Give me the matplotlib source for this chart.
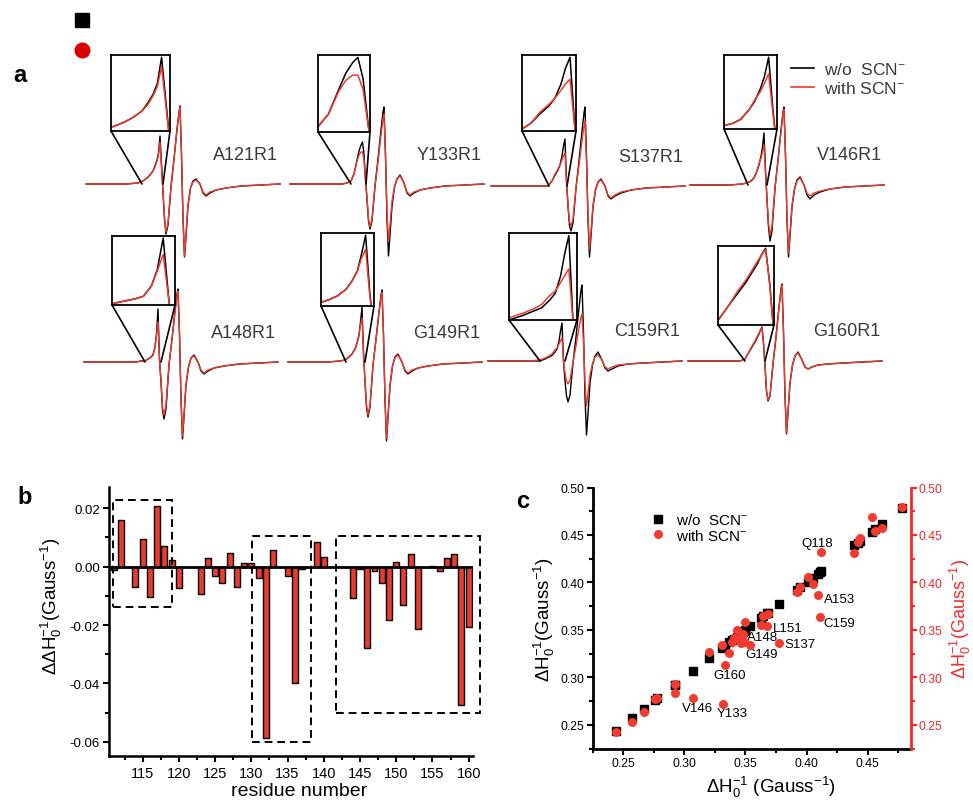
import matplotlib
matplotlib.use('Agg')
import matplotlib.pyplot as plt
from matplotlib.patches import Rectangle, ConnectionPatch
from matplotlib.lines import Line2D
from matplotlib.ticker import MultipleLocator, FormatStrFormatter

plt.rcParams['font.family'] = ['Liberation Sans', 'DejaVu Sans']
plt.rcParams['mathtext.fontset'] = 'custom'
plt.rcParams['mathtext.rm'] = 'Liberation Sans'
plt.rcParams['mathtext.it'] = 'Liberation Sans:italic'
plt.rcParams['mathtext.bf'] = 'Liberation Sans:bold'
plt.rcParams['axes.unicode_minus'] = False

W, H = 973, 803
RED = '#ec3a2d'
BAR_RED = '#ea3b2f'
DOT_RED = '#f23b30'
AX_RED = '#f02a2a'
GREY = '#3a3a3a'

# ---- panel a: EPR spectra (field offset, a.u.; derivative intensity, a.u.)
field = [0, 40, 52, 57, 61, 64, 67, 69, 71, 72.5, 74, 75.5, 77, 78.5, 80, 82, 85, 88,
         91, 93, 94, 95.5, 97, 98.5, 100, 102, 104.5, 107, 110, 114, 117, 120, 124,
         130, 140, 155, 175, 194]

a121_wo = [0, 0, 1, 3, 6, 9, 13, 18, 24, 31, 48, 20, -8, -35, -50, -41, -3, 25, 55, 72,
           78, 30, -35, -73, -52, -22, -4, 3, 5, 0, -9, -12, -9, -6, -4, -2, -1, 0]
a121_scn = [0, 0, 1, 3, 6, 9, 13, 17, 23, 29, 42, 17, -8, -34, -48, -39, -3, 25, 54, 71,
            77, 29, -34, -72, -51, -21, -4, 2, 4, 0, -8, -11, -8, -6, -4, -2, -1, 0]
y133_wo = [0, 0, 0, 1, 3, 10, 24, 33, 39, 42, 30, 4, -15, -37, -45, -37, -2, 25, 54, 72,
           77, 29, -35, -72, -51, -22, -3, 5, 9, 1, -9, -12, -9, -6, -4, -2, -1, 0]
y133_scn = [0, 0, 0, 1, 3, 10, 23, 29, 32, 32, 24, 3, -14, -35, -43, -35, -2, 22, 49, 65,
            70, 27, -28, -58, -41, -17, -3, 5, 8, 1, -8, -11, -8, -6, -4, -2, -1, 0]
s137_wo = [0, 0, 0, 0, 5, 11, 16, 21, 30, 40, 47, 5, -20, -40, -45, -37, -2, 25, 55, 73,
           79, 30, -34, -71, -50, -21, -4, 4, 7, 0, -10, -13, -10, -7, -4, -2, -1, 0]
s137_scn = [0, 0, 0, 0, 5, 12, 17, 21, 26, 30, 33, 4, -18, -36, -40, -33, -2, 21, 45, 60,
            65, 25, -30, -63, -45, -19, -4, 4, 6, 0, -9, -12, -9, -6, -4, -2, -1, 0]
v146_wo = [0, 0, 1, 2, 4, 7, 14, 20, 29, 38, 52, 15, -15, -42, -56, -46, -3, 25, 55, 73,
           78, 30, -35, -72, -51, -22, -4, 5, 8, 0, -10, -14, -10, -7, -4, -2, -1, 0]
v146_scn = [0, 0, 1, 2, 4, 7, 14, 21, 27, 33, 40, 12, -14, -38, -50, -41, -3, 24, 53, 71,
            76, 29, -33, -68, -48, -20, -4, 4, 7, 0, -8, -11, -8, -6, -4, -2, -1, 0]
a148_wo = [0, 0, 0, 1, 1, 3, 5, 7, 15, 28, 53, 2, -20, -48, -57, -47, -3, 23, 51, 68,
           73, 28, -37, -77, -55, -23, -5, 4, 7, 0, -9, -12, -9, -6, -4, -2, -1, 0]
a148_scn = [0, 0, 0, 1, 1, 3, 5, 7, 15, 27, 40, 2, -18, -45, -53, -43, -3, 23, 50, 66,
            71, 27, -36, -74, -53, -22, -5, 4, 6, 0, -8, -11, -8, -6, -4, -2, -1, 0]
g149_wo = [0, 0, 1, 2, 5, 8, 13, 19, 27, 40, 55, 10, -20, -45, -55, -45, -3, 23, 50, 67,
           72, 27, -38, -79, -56, -24, -4, 5, 8, 0, -9, -12, -9, -6, -4, -2, -1, 0]
g149_scn = [0, 0, 1, 2, 5, 8, 13, 19, 27, 37, 44, 8, -19, -43, -53, -43, -3, 22, 49, 65,
            70, 27, -36, -76, -54, -23, -4, 4, 7, 0, -8, -11, -8, -6, -4, -2, -1, 0]
c159_wo = [0, 0, 0, 2, 4, 5.5, 9, 12, 20, 30, 38, 0, -20, -35, -41, -34, -2, 24, 53, 71,
           76, 29, -36, -74, -53, -22, -4, 5, 9, 1, -7, -10, -8, -5, -3, -2, -1, 0]
c159_scn = [0, 0, 1, 3, 5, 7, 11, 13, 17, 20, 23, 0, -12, -20, -23, -19, -1, 15, 33, 44,
            47, 18, -22, -45, -32, -14, -3, 4, 6, 1, -6, -8, -6, -4, -3, -2, -1, 0]
g160_wo = [0, 0, 0, 2, 9, 14, 19, 23, 27, 31, 34, 18, -5, -30, -40, -35, -3, 24, 54, 72,
           77, 29, -35, -73, -52, -22, -4, 5, 9, 1, -6, -8, -6, -4, -3, -2, -1, 0]
g160_scn = [0, 0, 0, 2, 9, 15, 20, 24, 28, 31, 33.5, 18, -5, -30, -39, -34, -3, 24, 53, 71,
            76, 29, -34, -72, -51, -22, -4, 5, 8, 1, -6, -8, -6, -4, -3, -2, -1, 0]

# ---- panel b: ddH0^-1 per residue
residues = [111, 112, 114, 115, 116, 117, 118, 119, 120, 123, 124, 125, 126, 127, 128,
            129, 130, 131, 132, 133, 135, 136, 137, 139, 140, 144, 145, 146, 147, 148,
            149, 150, 151, 152, 153, 155, 156, 157, 158, 159, 160]
dd_h0 = [-0.0011, 0.0160, -0.0069, 0.0095, -0.0105, 0.0206, 0.0069, 0.0023, -0.0074,
         -0.0095, 0.0029, -0.0031, -0.0056, 0.0046, -0.0070, 0.0011, 0.0011, -0.0039,
         -0.0585, 0.0057, -0.0031, -0.0400, -0.0008, 0.0083, 0.0032, -0.0109, -0.0008,
         -0.0277, -0.0014, -0.0056, -0.0183, 0.0017, -0.0130, 0.0043, -0.0215, 0.0001,
         -0.0016, 0.0029, 0.0043, -0.0474, -0.0208]

# ---- panel c: H0^-1 without / with SCN-
h0_wo = [0.244, 0.257, 0.267, 0.276, 0.278, 0.292, 0.292, 0.307, 0.320, 0.3315, 0.3307,
         0.3334, 0.3369, 0.3389, 0.3402, 0.343, 0.3443, 0.3462, 0.3479, 0.3489, 0.3539,
         0.3498, 0.3626, 0.3675, 0.3647, 0.3683, 0.3776, 0.392, 0.3948, 0.4008, 0.4052,
         0.4093, 0.4112, 0.4118, 0.4391, 0.442, 0.444, 0.4536, 0.4563, 0.4618, 0.4782]
h0_scn = [0.243, 0.2535, 0.264, 0.277, 0.278, 0.293, 0.284, 0.2785, 0.327, 0.272, 0.3346,
          0.3127, 0.3258, 0.3374, 0.342, 0.3504, 0.3409, 0.3367, 0.3462, 0.3374, 0.3346,
          0.3586, 0.3557, 0.354, 0.3649, 0.3666, 0.3367, 0.390, 0.3955, 0.406, 0.398,
          0.3867, 0.3631, 0.4318, 0.4315, 0.443, 0.4466, 0.4685, 0.4543, 0.4575, 0.4794]
point_names = ['', '', '', '', '', '', '', 'V146', '', 'Y133', '', 'G160', '', '', '', '',
               '', 'A148', '', '', 'G149', '', '', 'L151', '', '', 'S137', '', '', '', '',
               'A153', 'C159', 'Q118', '', '', '', '', '', '', '']


def px_axes(fig, x0, y0, x1, y1):
    return fig.add_axes([x0 / W, 1 - y1 / H, (x1 - x0) / W, (y1 - y0) / H])


fig = plt.figure(figsize=(W / 100, H / 100), dpi=100)

# label, w/o, with, start px, baseline px, zoom range, inset box px
spectra = [
    ('A121R1', a121_wo, a121_scn, 86, 185, (56, 77), (111, 56, 170, 132)),
    ('Y133R1', y133_wo, y133_scn, 290, 185, (61, 76), (318, 56, 370, 133)),
    ('S137R1', s137_wo, s137_scn, 491, 187, (58, 76), (522, 56, 576, 132)),
    ('V146R1', v146_wo, v146_scn, 690, 186, (58, 77), (724, 56, 777, 130)),
    ('A148R1', a148_wo, a148_scn, 84, 363, (61, 77), (112, 237, 175, 306)),
    ('G149R1', g149_wo, g149_scn, 288, 363, (58, 77), (321, 234, 374, 307)),
    ('C159R1', c159_wo, c159_scn, 488, 362, (52, 77), (509, 234, 577, 321)),
    ('G160R1', g160_wo, g160_scn, 688, 362, (57, 77), (718, 247, 774, 326)),
]

for name, wo, scn, x0, base, (zl, zr), box in spectra:
    ax = px_axes(fig, x0, base - 90, x0 + 194, base + 90)
    ax.plot(field, wo, color='k', lw=1.0, clip_on=False)
    ax.plot(field, scn, color=RED, lw=1.0, clip_on=False)
    ax.set_xlim(0, 194)
    ax.set_ylim(-90, 90)
    ax.axis('off')
    ax.text(192, 30, name, ha='right', va='center', fontsize=13, color=GREY)

    # zoom on the low-field line
    axins = px_axes(fig, *box)
    axins.plot(field, wo, color='k', lw=1.1)
    axins.plot(field, scn, color=RED, lw=1.1)
    top = max(v for f, v in zip(field, wo) if zl <= f <= zr)
    axins.set_xlim(zl, zr)
    axins.set_ylim(0, top / 0.97)
    axins.set_xticks([])
    axins.set_yticks([])
    axins.patch.set_facecolor('none')
    for s in axins.spines.values():
        s.set_linewidth(1.3)
    for fx, bx in [(zl, 0), (zr, 1)]:
        con = ConnectionPatch(xyA=(bx, 0), coordsA=axins.transAxes,
                              xyB=(fx, 0), coordsB=ax.transData,
                              color='k', lw=1.2)
        fig.add_artist(con)

fig.legend(handles=[Line2D([], [], color='k', lw=1.2), Line2D([], [], color=RED, lw=1.2)],
           labels=['w/o  SCN$^{-}$', 'with SCN$^{-}$'], loc='upper left',
           bbox_to_anchor=(791 / W, 1 - 62 / H), frameon=False, fontsize=12.5,
           handlelength=1.3, handletextpad=0.6, labelspacing=0.2, borderpad=0,
           borderaxespad=0, labelcolor=GREY)

# stray legend keys at the top left
fig.legend(handles=[Line2D([], [], ls='none', marker='s', color='k', ms=10),
                    Line2D([], [], ls='none', marker='o', color='#dd0000', ms=10.5)],
           labels=['', ''], loc='upper left', bbox_to_anchor=(75 / W, 1 - 15 / H),
           frameon=False, fontsize=10, handlelength=1.0, handleheight=0.7,
           labelspacing=1.17, borderpad=0, borderaxespad=0)

# ---- panel b
axb = px_axes(fig, 109, 488, 473, 757)
axb.bar(residues, dd_h0, width=0.82, color=BAR_RED, edgecolor='k', lw=1.0, zorder=3)
axb.axhline(0, color='k', lw=2, zorder=4)
axb.set_xlim(110.35, 160.6)
axb.set_ylim(-0.0648, 0.0272)
for s in ['top', 'right']:
    axb.spines[s].set_visible(False)
for s in ['left', 'bottom']:
    axb.spines[s].set_linewidth(1.8)
axb.xaxis.set_major_locator(MultipleLocator(5))
axb.xaxis.set_minor_locator(MultipleLocator(2.5))
axb.yaxis.set_major_locator(MultipleLocator(0.02))
axb.yaxis.set_minor_locator(MultipleLocator(0.01))
axb.yaxis.set_major_formatter(FormatStrFormatter('%.2f'))
axb.tick_params(which='major', direction='out', length=4, width=1.5, labelsize=10.5)
axb.tick_params(axis='y', which='major', labelsize=9.5, pad=2.5)
axb.tick_params(which='minor', direction='out', length=3, width=1.5)
axb.set_xlabel('residue number', fontsize=14)
axb.xaxis.set_label_coords(0.522, -0.095)
axb.set_ylabel('ΔΔH$_0^{-1}$(Gauss$^{-1}$)', fontsize=13.5)
axb.yaxis.set_label_coords(-0.125, 0.56)
for (x0, x1, y0, y1) in [(110.94, 119.1, -0.0139, 0.0226), (130.06, 138.2, -0.0599, 0.0106),
                         (141.66, 161.6, -0.0500, 0.0106)]:
    axb.add_patch(Rectangle((x0, y0), x1 - x0, y1 - y0, fill=False, ec='k', lw=1.4,
                            ls=(0, (4, 2.5)), clip_on=False, zorder=5))

# ---- panel c
axc = px_axes(fig, 592.7, 488.5, 910.5, 750)
axc.plot(h0_wo, h0_wo, 's', color='k', ms=5.5, label='w/o  SCN$^{-}$', zorder=3)
axc.plot(h0_wo, h0_scn, 'o', color=DOT_RED, ms=6.5, mec='none', label='with SCN$^{-}$',
         zorder=4)
axc.set_xlim(0.225, 0.485)
axc.set_ylim(0.2246, 0.5)
# label offsets in px: dx right, dy up
offsets = {'Q118': (-4, 9, 'center'), 'A153': (5.5, -3.5, 'left'),
           'C159': (3.5, -5.5, 'left'), 'L151': (6, -1.5, 'left'),
           'A148': (6.5, 5.5, 'left'), 'S137': (5.5, -1, 'left'),
           'G149': (-5, -9, 'left'), 'G160': (-11.5, -10, 'left'),
           'V146': (-11, -10.5, 'left'), 'Y133': (-6, -9.5, 'left')}
for xv, yv, nm in zip(h0_wo, h0_scn, point_names):
    if nm:
        dx, dy, ha = offsets[nm]
        axc.annotate(nm, (xv, yv), xytext=(dx * 0.72, dy * 0.72),
                     textcoords='offset points', ha=ha, va='center', fontsize=9.5)
for s in ['top', 'right']:
    axc.spines[s].set_visible(False)
for s in ['left', 'bottom']:
    axc.spines[s].set_linewidth(2)
for a in (axc.xaxis, axc.yaxis):
    a.set_major_locator(MultipleLocator(0.05))
    a.set_minor_locator(MultipleLocator(0.025))
    a.set_major_formatter(FormatStrFormatter('%.2f'))
axc.tick_params(which='major', direction='out', length=4, width=1.5, labelsize=8.8, pad=2)
axc.tick_params(which='minor', direction='out', length=3, width=1.5)
axc.set_xlabel('ΔH$_0^{-1}$ (Gauss$^{-1}$)', fontsize=13.5)
axc.xaxis.set_label_coords(0.56, -0.095)
axc.set_ylabel('ΔH$_0^{-1}$(Gauss$^{-1}$)', fontsize=13.5)
axc.yaxis.set_label_coords(-0.112, 0.5)

axr = axc.twinx()
axr.set_ylim(axc.get_ylim())
for s in ['top', 'left', 'bottom']:
    axr.spines[s].set_visible(False)
axr.spines['right'].set_linewidth(2)
axr.spines['right'].set_color(AX_RED)
axr.yaxis.set_major_locator(MultipleLocator(0.05))
axr.yaxis.set_minor_locator(MultipleLocator(0.025))
axr.yaxis.set_major_formatter(FormatStrFormatter('%.2f'))
axr.tick_params(which='major', direction='out', length=4, width=1.5, labelsize=8.8,
                pad=2, colors=AX_RED)
axr.tick_params(which='minor', direction='out', length=3, width=1.5, colors=AX_RED)
axr.set_ylabel('ΔH$_0^{-1}$(Gauss$^{-1}$)', fontsize=13, color=AX_RED)
axr.yaxis.set_label_coords(1.118, 0.5)

axc.legend(loc='upper left', bbox_to_anchor=(652 / W, 1 - 513 / H),
           bbox_transform=fig.transFigure, frameon=False, fontsize=11,
           handlelength=0.8, handletextpad=0.77, labelspacing=0.05, borderpad=0,
           borderaxespad=0)

# panel letters
for letter, (px, py) in {'a': (20, 76), 'b': (25, 498), 'c': (523, 502)}.items():
    fig.text(px / W, 1 - py / H, letter, fontsize=17, fontweight='bold',
             ha='center', va='center')

fig.savefig('out.png', dpi=100)
